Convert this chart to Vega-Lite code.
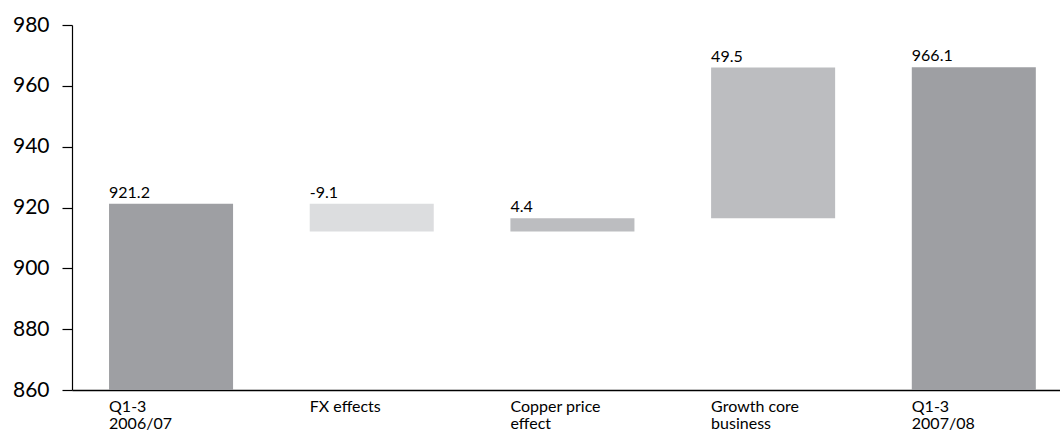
{
  "$schema": "https://vega.github.io/schema/vega-lite/v6.json",
  "autosize": {"type": "none"},
  "padding": {"left": 72, "top": 25, "right": 0, "bottom": 52},
  "width": 988,
  "height": 365,
  "background": "white",
  "config": {
    "view": {"stroke": null},
    "font": "Lato",
    "axis": {"grid": false, "domainColor": "#000000", "tickColor": "#000000", "labelColor": "#000000", "labelFont": "Lato"}
  },
  "data": {
    "values": [
      {"step": "Q1-3|2006/07", "order": 1, "start": 860, "end": 921.2, "label": "921.2", "kind": "total"},
      {"step": "FX effects", "order": 2, "start": 912.1, "end": 921.2, "label": "-9.1", "kind": "fx"},
      {"step": "Copper price|effect", "order": 3, "start": 912.1, "end": 916.5, "label": "4.4", "kind": "change"},
      {"step": "Growth core|business", "order": 4, "start": 916.5, "end": 966.0, "label": "49.5", "kind": "change"},
      {"step": "Q1-3|2007/08", "order": 5, "start": 860, "end": 966.1, "label": "966.1", "kind": "total"}
    ]
  },
  "encoding": {
    "x": {
      "field": "step",
      "type": "nominal",
      "sort": {"field": "order"},
      "scale": {"paddingInner": 0.382, "paddingOuter": 0.1525, "align": 0.605},
      "axis": {
        "title": null,
        "ticks": false,
        "labelAngle": 0,
        "labelAlign": "left",
        "labelBaseline": "top",
        "labelOffset": -62,
        "labelPadding": 8,
        "labelFontSize": 16,
        "labelLineHeight": 17,
        "labelExpr": "split(datum.value, '|')",
        "domainWidth": 1.5
      }
    }
  },
  "layer": [
    {
      "mark": {"type": "bar"},
      "encoding": {
        "y": {
          "field": "start",
          "type": "quantitative",
          "scale": {"domain": [860, 980], "nice": false, "zero": false},
          "axis": {
            "title": null,
            "values": [860, 880, 900, 920, 940, 960, 980],
            "tickSize": 10,
            "labelPadding": 13,
            "labelFontSize": 21,
            "domainWidth": 1.2,
            "tickWidth": 1.2
          }
        },
        "y2": {"field": "end"},
        "color": {
          "field": "kind",
          "type": "nominal",
          "scale": {"domain": ["total", "fx", "change"], "range": ["#9e9fa3", "#dcdddf", "#bcbdc0"]},
          "legend": null
        }
      }
    },
    {
      "mark": {"type": "text", "align": "left", "baseline": "alphabetic", "dy": -6, "fontSize": 16, "color": "#000000"},
      "encoding": {
        "x": {"field": "step", "type": "nominal", "sort": {"field": "order"}, "bandPosition": 0},
        "y": {"field": "end", "type": "quantitative"},
        "text": {"field": "label"}
      }
    }
  ]
}
